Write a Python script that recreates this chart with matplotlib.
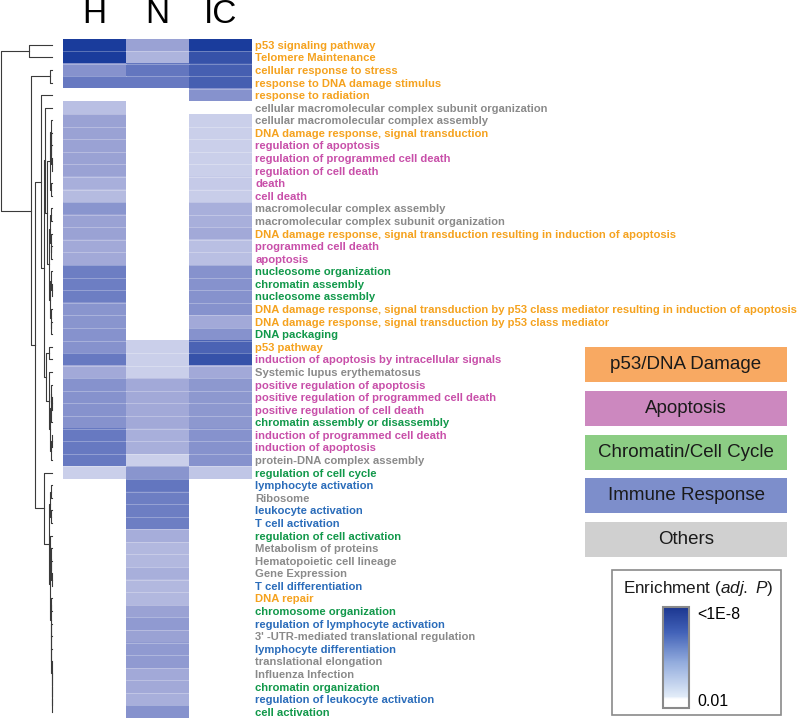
import numpy as np
import matplotlib
matplotlib.use("Agg")
import matplotlib.pyplot as plt
from matplotlib.colors import LinearSegmentedColormap, Normalize
from matplotlib.patches import Rectangle
from matplotlib.cm import ScalarMappable

plt.rcParams["font.family"] = ["Liberation Sans", "DejaVu Sans"]
plt.rcParams["mathtext.fontset"] = "custom"
plt.rcParams["mathtext.rm"] = "Liberation Sans"
plt.rcParams["mathtext.it"] = "Liberation Sans:italic"

nan = np.nan

# GO / pathway terms, top to bottom
terms = [
    "p53 signaling pathway",
    "Telomere Maintenance",
    "cellular response to stress",
    "response to DNA damage stimulus",
    "response to radiation",
    "cellular macromolecular complex subunit organization",
    "cellular macromolecular complex assembly",
    "DNA damage response, signal transduction",
    "regulation of apoptosis",
    "regulation of programmed cell death",
    "regulation of cell death",
    "death",
    "cell death",
    "macromolecular complex assembly",
    "macromolecular complex subunit organization",
    "DNA damage response, signal transduction resulting in induction of apoptosis",
    "programmed cell death",
    "apoptosis",
    "nucleosome organization",
    "chromatin assembly",
    "nucleosome assembly",
    "DNA damage response, signal transduction by p53 class mediator resulting in induction of apoptosis",
    "DNA damage response, signal transduction by p53 class mediator",
    "DNA packaging",
    "p53 pathway",
    "induction of apoptosis by intracellular signals",
    "Systemic lupus erythematosus",
    "positive regulation of apoptosis",
    "positive regulation of programmed cell death",
    "positive regulation of cell death",
    "chromatin assembly or disassembly",
    "induction of programmed cell death",
    "induction of apoptosis",
    "protein-DNA complex assembly",
    "regulation of cell cycle",
    "lymphocyte activation",
    "Ribosome",
    "leukocyte activation",
    "T cell activation",
    "regulation of cell activation",
    "Metabolism of proteins",
    "Hematopoietic cell lineage",
    "Gene Expression",
    "T cell differentiation",
    "DNA repair",
    "chromosome organization",
    "regulation of lymphocyte activation",
    "3' -UTR-mediated translational regulation",
    "lymphocyte differentiation",
    "translational elongation",
    "Influenza Infection",
    "chromatin organization",
    "regulation of leukocyte activation",
    "cell activation",
]

term_group = [
    "p53", "p53", "p53", "p53", "p53", "other", "other", "p53", "apop", "apop",
    "apop", "apop", "apop", "other", "other", "p53", "apop", "apop", "chrom", "chrom",
    "chrom", "p53", "p53", "chrom", "p53", "apop", "other", "apop", "apop", "apop",
    "chrom", "apop", "apop", "other", "chrom", "immune", "other", "immune", "immune", "chrom",
    "other", "other", "other", "immune", "p53", "chrom", "immune", "other", "immune", "other",
    "other", "chrom", "immune", "chrom",
]

# -log10(adj. P), nan = not enriched
h_vals = [8, 8, 5.1, 6.1, nan, 3.2, 4.5, 4.5, 4.5, 4.5,
          4.5, 3.9, 3.4, 5.0, 4.5, 4.5, 4.2, 4.2, 5.9, 5.9,
          5.9, 5.0, 5.0, 5.1, 5.1, 6.1, 4.2, 5.1, 5.1, 5.1,
          5.1, 6.1, 6.1, 6.1, 2.5] + [nan] * 19
n_vals = [4.5, 3.7, 6.2, 6.1] + [nan] * 20 + [
          2.5, 2.5, 2.5, 4.2, 4.2, 4.2, 4.2, 3.9, 3.9, 2.5,
          5.0, 6.2, 5.9, 5.9, 5.9, 4.0, 3.5, 3.5, 3.9, 3.5,
          3.5, 4.5, 4.8, 4.5, 4.8, 4.8, 4.2, 4.2, 3.9, 5.1]
ic_vals = [8, 7.3, 6.9, 6.9, 5.1, nan, 2.5, 2.5, 2.5, 2.5,
           2.5, 2.7, 2.6, 3.9, 3.9, 4.2, 3.2, 3.2, 5.1, 5.1,
           5.1, 5.1, 4.2, 5.1, 6.8, 7.3, 4.2, 4.9, 4.9, 4.9,
           4.9, 5.1, 5.1, 5.1, 2.9] + [nan] * 19

columns = ["H", "N", "IC"]

# dendrogram: (left, right, height); ints are row indices
dendro_tree = (
    (0, 1, 23),
    ((2, 3, 2),
     ((4,
       ((5,
         (((6, (7, (8, (9, 10, 0.3), 0.6), 1), 1.5), (11, 12, 0.8), 2.5),
          (((13, 14, 0.8), (15, (16, 17, 0.6), 1.2), 2),
           ((18, (19, 20, 0.5), 1), (21, (22, 23, 0.7), 1.5), 2.2), 3.5), 5), 7),
        ((24, 25, 3),
         (26, (((27, (28, 29, 0.5), 1), 30, 1.5), ((31, 32, 0.5), 33, 1), 2.2), 3), 6), 8), 11),
      (34,
       (((35, 36, 1), (37, 38, 1.2), 2),
        ((39, (40, (41, (42, 43, 0.5), 0.8), 1.2), 1.8),
         ((44, 45, 0.6),
          (46, (47, (48, (49, (50, (51, (52, 53, 0.2), 0.3), 0.4), 0.5), 0.6), 0.7), 0.8), 1.2), 2.5),
        3.5), 8), 17), 21),
    51.5)

group_names = {"p53": "p53/DNA Damage", "apop": "Apoptosis", "chrom": "Chromatin/Cell Cycle",
               "immune": "Immune Response", "other": "Others"}
text_colors = {"p53": "#f5a21e", "apop": "#c84fa9", "chrom": "#11984a",
               "immune": "#2a6cba", "other": "#8a8a8a"}
box_colors = {"p53": "#f8a962", "apop": "#cc88bf", "chrom": "#8ccd84",
              "immune": "#7d8ecb", "other": "#d0d0d0"}

heat_cmap = LinearSegmentedColormap.from_list(
    "enrich", [(0, "#d6daf0"), (0.4, "#9da5d6"), (0.7, "#6477c0"), (1, "#1a3c9c")])
heat_cmap.set_bad("white")
cbar_cmap = LinearSegmentedColormap.from_list(
    "enrich_bar", [(0, "white"), (0.09, "white"), (0.11, "#e2ecf8"),
                   (0.45, "#93acdd"), (0.75, "#4262b8"), (1, "#1b3690")])

n_rows = len(terms)
data = np.ma.masked_invalid(np.array([h_vals, n_vals, ic_vals]).T)

fig = plt.figure(figsize=(8, 7.18), dpi=100)
W, H = 800, 718
top_px, bot_px = 38.5, 718
ax_bottom = 1 - bot_px / H
ax_height = (bot_px - top_px) / H

# heatmap
ax = fig.add_axes([63 / W, ax_bottom, 189 / W, ax_height])
ax.imshow(data, cmap=heat_cmap, norm=Normalize(2, 8), aspect="auto",
          interpolation="nearest")
for j in range(3):
    for i in range(1, n_rows):
        if not data.mask[i, j] and not data.mask[i - 1, j]:
            ax.plot([j - 0.5, j + 0.5], [i - 0.5, i - 0.5], color="white",
                    lw=0.5, alpha=0.4)
ax.set_xlim(-0.5, 2.5)
ax.set_ylim(n_rows - 0.5, -0.5)
ax.set_xticks(range(3))
ax.set_xticklabels(columns)
ax.xaxis.tick_top()
ax.tick_params(axis="x", length=0, pad=6, labelsize=24)
ax.set_yticks(range(n_rows))
ax.set_yticklabels(terms)
ax.yaxis.tick_right()
ax.tick_params(axis="y", length=0, pad=2.5, labelsize=8.1)
for lbl, g in zip(ax.get_yticklabels(), term_group):
    lbl.set_color(text_colors[g])
    lbl.set_fontweight("bold")
for s in ax.spines.values():
    s.set_visible(False)

# dendrogram
dax = fig.add_axes([0, ax_bottom, 54 / W, ax_height])


def draw_node(node):
    if isinstance(node, int):
        return 0.0, float(node)
    left, right, h = node
    hl, yl = draw_node(left)
    hr, yr = draw_node(right)
    dax.plot([hl, h, h, hr], [yl, yl, yr, yr], color="#3a3a3a", lw=0.8)
    return h, (yl + yr) / 2


root_h, root_y = draw_node(dendro_tree)
dax.set_xlim(52, -2)
dax.set_ylim(n_rows - 0.5, -0.5)
dax.axis("off")

# legend boxes and colorbar frame
lax = fig.add_axes([0, 0, 1, 1])
lax.set_xlim(0, W)
lax.set_ylim(H, 0)
lax.axis("off")
lax.patch.set_alpha(0)
for k, g in enumerate(["p53", "apop", "chrom", "immune", "other"]):
    y0 = 347 + k * 43.8
    lax.add_patch(Rectangle((585, y0), 202, 35, facecolor=box_colors[g],
                            edgecolor="none"))
    lax.text(686, y0 + 17.5, group_names[g], ha="center", va="center",
             fontsize=13.5, color="#1a1a1a")
lax.add_patch(Rectangle((612, 570), 169, 145, facecolor="none",
                        edgecolor="#8a8a8a", lw=1.2))
lax.text(698, 589, r"Enrichment ($\it{adj.\ P}$)", ha="center", va="center",
         fontsize=12.3, color="#1a1a1a")

cax = fig.add_axes([663 / W, 1 - 708 / H, 26 / W, 101 / H])
cb = fig.colorbar(ScalarMappable(norm=Normalize(0, 1), cmap=cbar_cmap), cax=cax)
cb.set_ticks([0.08, 0.94])
cb.set_ticklabels(["0.01", "<1E-8"])
cax.tick_params(length=0, labelsize=11.5, pad=6)
cb.outline.set_edgecolor("#8a8a8a")
cb.outline.set_linewidth(1.5)

fig.savefig("out.png", dpi=100)
